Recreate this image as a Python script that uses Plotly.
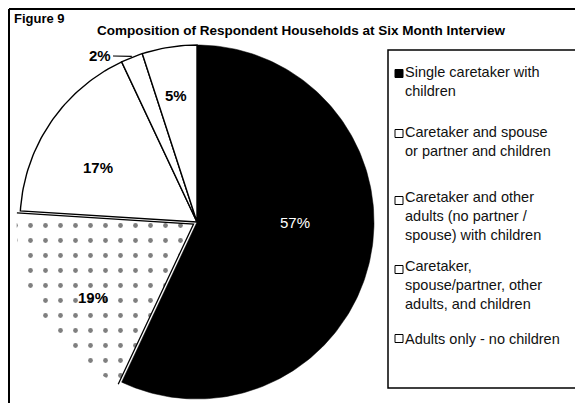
import numpy as np
import plotly.graph_objects as go

# ---------------- data ----------------
categories = [
    "Single caretaker with children",
    "Caretaker and spouse or partner and children",
    "Caretaker and other adults (no partner / spouse) with children",
    "Caretaker, spouse/partner, other adults, and children",
    "Adults only - no children",
]
legend_lines = [
    ["Single caretaker with", "children"],
    ["Caretaker and spouse", "or partner and children"],
    ["Caretaker and other", "adults (no partner /", "spouse) with children"],
    ["Caretaker,", "spouse/partner, other", "adults, and children"],
    ["Adults only - no children"],
]
values = [57, 19, 17, 2, 5]
value_labels = ["57%", "19%", "17%", "2%", "5%"]
title_text = "Composition of Respondent Households at Six Month Interview"
figure_label = "Figure 9"

# ---------------- layout constants (page pixels) ----------------
W, H = 583, 403
OFF = 8  # the page body margin; axes are set so data units equal page pixels
CX, CY, R = 197, 222, 177
FONT = "Arial, Liberation Sans, Helvetica, sans-serif"
fill_colors = ["#000000", "#ffffff", "#ffffff", "#ffffff", "#ffffff"]
pulls = [0, 4, 0, 0, 0]
label_pos = [(295, 222), (93, 297), (98, 167), (100, 55), (176, 95)]
label_color = ["#ffffff", "#000000", "#000000", "#000000", "#000000"]
label_bold = [False, True, True, True, True]
legend_box = (388, 50, 578, 388)
legend_first_y = [74, 134, 201, 270, 339]
legend_line_gap = 15
LEG_FONT = 14.5

fig = go.Figure()

total = float(sum(values))
cum = 0.0
for i, v in enumerate(values):
    a0 = cum / total * 360.0
    a1 = (cum + v) / total * 360.0
    cum += v
    am = np.radians((a0 + a1) / 2)
    ox = pulls[i] * np.sin(am)
    oy = -pulls[i] * np.cos(am)
    t = np.radians(np.linspace(a0, a1, max(10, int(v * 3))))
    ax = CX + ox + R * np.sin(t)
    ay = CY + oy - R * np.cos(t)
    xs = np.concatenate([[CX + ox], ax, [CX + ox]])
    ys = np.concatenate([[CY + oy], ay, [CY + oy]])
    kw = {}
    if i == 1:
        kw["fillpattern"] = dict(shape=".", fgcolor="#000000", bgcolor="#ffffff",
                                 size=15, solidity=0.08)
        line = dict(width=0, color="rgba(0,0,0,0)")
    elif i == 0:
        line = dict(width=0.5, color="#000000")
    else:
        line = dict(width=1.4, color="#000000")
    fig.add_trace(go.Scatter(
        x=xs, y=ys, mode="lines", fill="toself", fillcolor=fill_colors[i],
        line=line, name=categories[i], hoverinfo="name", showlegend=False, **kw))
    if i == 1:
        # radial edges only for the stippled slice
        fig.add_trace(go.Scatter(
            x=[ax[0], CX + ox, ax[-1]], y=[ay[0], CY + oy, ay[-1]],
            mode="lines", line=dict(width=1.3, color="#000000"),
            hoverinfo="skip", showlegend=False))
    # slice label
    lx, ly = label_pos[i]
    txt = value_labels[i]
    if label_bold[i]:
        txt = "<b>" + txt + "</b>"
    fig.add_annotation(x=lx, y=ly, text=txt, showarrow=False,
                       xanchor="center", yanchor="middle",
                       font=dict(family=FONT, size=15, color=label_color[i]))
    if i == 3:
        # leader line from the 2% label to its slice
        fig.add_shape(type="line", x0=lx + 13, y0=ly + 1,
                      x1=CX + R * np.sin(am), y1=CY - R * np.cos(am) - 1,
                      line=dict(color="#000000", width=1.2))

# ---------------- figure frame ----------------
fig.add_shape(type="line", x0=9, y0=9, x1=9, y1=H + 20,
              line=dict(color="#000000", width=2))
fig.add_shape(type="line", x0=9, y0=9, x1=W + 20, y1=9,
              line=dict(color="#000000", width=2))

# ---------------- title ----------------
fig.add_annotation(x=12, y=18, text="<b>" + figure_label + "</b>", showarrow=False,
                   xanchor="left", yanchor="middle",
                   font=dict(family=FONT, size=13, color="#000000"))
fig.add_annotation(x=301, y=30, text="<b>" + title_text + "</b>", showarrow=False,
                   xanchor="center", yanchor="middle",
                   font=dict(family=FONT, size=13.5, color="#000000"))

# ---------------- legend (drawn) ----------------
bx0, by0, bx1, by1 = legend_box
fig.add_shape(type="rect", x0=bx0, y0=by0, x1=bx1, y1=by1,
              line=dict(color="#000000", width=1.5), fillcolor="#ffffff", layer="below")
for i, lines in enumerate(legend_lines):
    y0 = legend_first_y[i]
    fig.add_shape(type="rect", x0=395, y0=y0 - 4.5, x1=403, y1=y0 + 3.5,
                  line=dict(color="#000000", width=1),
                  fillcolor=fill_colors[i])
    yc = y0 + (len(lines) - 1) * legend_line_gap / 2.0
    fig.add_annotation(x=403, y=yc, text="<br>".join(lines), showarrow=False,
                       xanchor="left", yanchor="middle", align="left",
                       font=dict(family=FONT, size=LEG_FONT, color="#111111"))

fig.update_xaxes(range=[OFF, OFF + W], visible=False, fixedrange=True)
fig.update_yaxes(range=[OFF + H, OFF], visible=False, fixedrange=True)
fig.update_layout(
    width=W, height=H, margin=dict(l=0, r=0, t=0, b=0),
    paper_bgcolor="#ffffff", plot_bgcolor="#ffffff", showlegend=False,
)

fig.write_html("out.html")
